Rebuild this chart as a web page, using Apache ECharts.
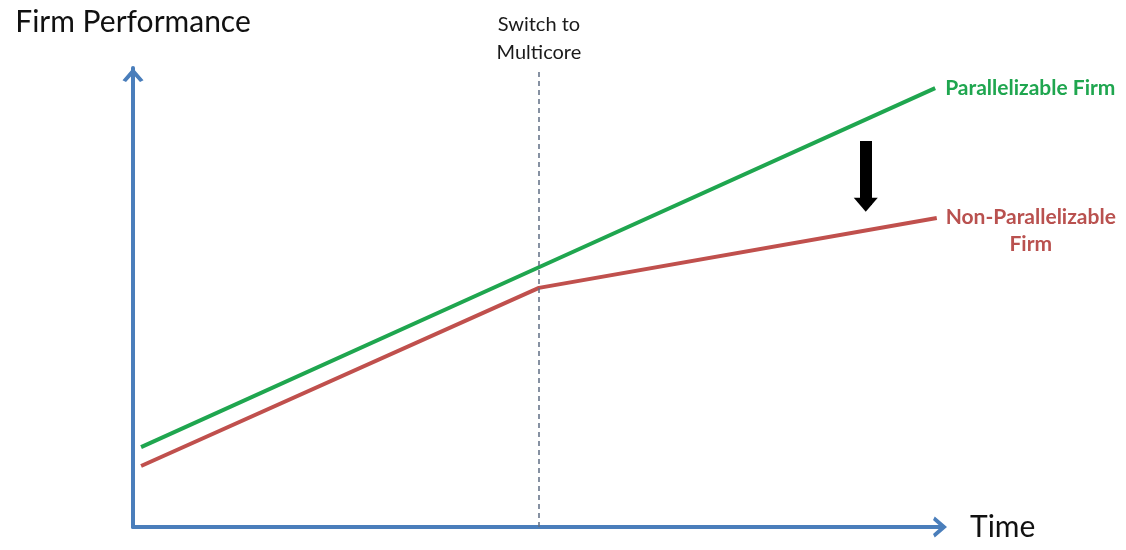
<!DOCTYPE html>
<html>
<head>
<meta charset="utf-8">
<script src="https://cdn.jsdelivr.net/npm/echarts@6/dist/echarts.min.js"></script>
<style>
  html, body { margin: 0; padding: 0; background: #ffffff; }
  #chart { width: 1126px; height: 550px; }
</style>
</head>
<body>
<div id="chart"></div>
<script>
// Time runs 0..100, performance runs 0..100 (both unitless)
const parallelTime = [1, 50.3, 99.4];
const parallelPerf = [17.4, 56.6, 95.6];
const nonParallelTime = [1, 50.3, 99.6];
const nonParallelPerf = [13.3, 52.1, 67.3];
const switchTime = 50.3;               // moment the industry moves to multicore
const gapArrowTime = 90.8;             // where the performance gap is marked
const gapArrowPerf = [84.1, 70.2];     // arrow from top to head

const FONT = 'Lato, "Open Sans", sans-serif';
const AXIS_BLUE = '#4a7ebb';
const GREEN = '#1fa64f';
const RED = '#c0504d';

const zip = (xs, ys) => xs.map((x, i) => [x, ys[i]]);
const chevron = 'path://M0,14 L12,0 L24,14 L20,16 L12,7 L4,16 Z';

const chart = echarts.init(document.getElementById('chart'));
chart.setOption({
  backgroundColor: '#ffffff',
  animation: false,
  grid: { left: 133, right: 186, top: 68, bottom: 23 },
  xAxis: {
    type: 'value', min: 0, max: 100,
    name: 'Time', nameLocation: 'end', nameGap: 30,
    nameTextStyle: { fontFamily: FONT, fontSize: 30, color: '#111', verticalAlign: 'middle' },
    axisLine: { show: true, lineStyle: { color: AXIS_BLUE, width: 4 },
      symbol: ['none', chevron], symbolSize: [22, 14] },
    axisTick: { show: false }, axisLabel: { show: false }, splitLine: { show: false }
  },
  yAxis: {
    type: 'value', min: 0, max: 100,
    name: 'Firm Performance', nameLocation: 'end', nameGap: 31,
    nameTextStyle: { fontFamily: FONT, fontSize: 30, color: '#111', align: 'center' },
    axisLine: { show: true, lineStyle: { color: AXIS_BLUE, width: 4 },
      symbol: ['none', chevron], symbolSize: [22, 14], symbolOffset: [0, -7] },
    axisTick: { show: false }, axisLabel: { show: false }, splitLine: { show: false }
  },
  series: [
    {
      name: 'Parallelizable Firm',
      type: 'line',
      data: zip(parallelTime, parallelPerf),
      showSymbol: false,
      lineStyle: { color: GREEN, width: 4 },
      itemStyle: { color: GREEN },
      endLabel: {
        show: true, formatter: 'Parallelizable Firm', distance: 10,
        fontFamily: FONT, fontWeight: 'bold', fontSize: 21, color: GREEN
      },
      markLine: {
        silent: true, symbol: ['none', 'none'],
        lineStyle: { color: '#5f6e84', width: 1.5, type: [5, 4] },
        label: {
          show: true, position: 'end', formatter: 'Switch to\nMulticore', distance: 1,
          fontFamily: FONT, fontSize: 20, color: '#1a1a1a', lineHeight: 28
        },
        data: [[{ coord: [switchTime, 0] }, { coord: [switchTime, 100] }]]
      }
    },
    {
      name: 'Non-Parallelizable Firm',
      type: 'line',
      data: zip(nonParallelTime, nonParallelPerf),
      showSymbol: false,
      lineStyle: { color: RED, width: 4 },
      itemStyle: { color: RED },
      endLabel: {
        show: true, formatter: 'Non-Parallelizable\nFirm', distance: 94, align: 'center',
        offset: [0, 13], lineHeight: 27,
        fontFamily: FONT, fontWeight: 'bold', fontSize: 21, color: '#b9514f'
      },
      markLine: {
        silent: true, symbol: ['none', 'triangle'], symbolSize: [24, 14],
        lineStyle: { color: '#000', width: 12, type: 'solid' },
        itemStyle: { color: '#000' },
        label: { show: false },
        data: [[{ coord: [gapArrowTime, gapArrowPerf[0]] }, { coord: [gapArrowTime, gapArrowPerf[1]] }]]
      }
    }
  ]
});
</script>
</body>
</html>
